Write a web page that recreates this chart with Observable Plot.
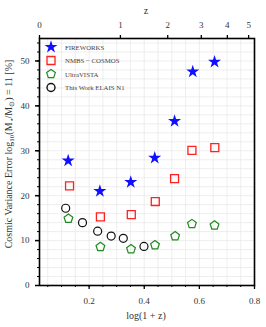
<!DOCTYPE html>
<html><head><meta charset="utf-8">
<script src="https://cdn.jsdelivr.net/npm/d3@7"></script>
<script src="https://cdn.jsdelivr.net/npm/@observablehq/plot@0.6"></script>
<style>
body{margin:0;background:#fff;}
svg{font-family:"Liberation Serif",serif;}
</style></head>
<body><div id="chart"></div>
<script>
// Data: log(1+z) positions and cosmic variance error [%]
const fireworksX = [0.124, 0.239, 0.351, 0.438, 0.510, 0.576, 0.655];
const fireworksY = [27.8, 21.0, 23.0, 28.4, 36.6, 47.6, 49.8];
const nmbsX = [0.129, 0.241, 0.353, 0.440, 0.510, 0.573, 0.656];
const nmbsY = [22.2, 15.3, 15.8, 18.7, 23.8, 30.1, 30.7];
const uvistaX = [0.125, 0.241, 0.352, 0.439, 0.512, 0.573, 0.655];
const uvistaY = [14.9, 8.6, 8.1, 9.0, 11.0, 13.7, 13.4];
const thisX = [0.115, 0.176, 0.231, 0.280, 0.324, 0.399];
const thisY = [17.2, 14.0, 12.1, 11.0, 10.5, 8.7];
const seriesNames = ["FIREWORKS", "NMBS \u2212 COSMOS", "UltraVISTA", "This Work ELAIS N1"];
const xTicks = [0.2, 0.4, 0.6, 0.8];
const yTicks = [0, 10, 20, 30, 40, 50];
const zTicks = [0, 1, 2, 3, 4, 5];
const xDomain = [0.02, 0.8];
const topDomain = [0, 0.8];
const yDomain = [0, 55];

const toBottom = v => xDomain[0] + (v - topDomain[0]) * (xDomain[1] - xDomain[0]) / (topDomain[1] - topDomain[0]);
const fromBottom = u => topDomain[0] + (u - xDomain[0]) * (topDomain[1] - topDomain[0]) / (xDomain[1] - xDomain[0]);
const zPos = zTicks.map(z => toBottom(Math.log10(1 + z)));

const pentagon = {
  draw(context, size) {
    const r = Math.sqrt(size / 2.378);
    for (let i = 0; i < 5; i++) {
      const a = -Math.PI / 2 + i * 2 * Math.PI / 5;
      const x = r * Math.cos(a), y = r * Math.sin(a);
      if (i === 0) context.moveTo(x, y); else context.lineTo(x, y);
    }
    context.closePath();
  }
};

const pts = (xs, ys) => xs.map((x, i) => ({x, y: ys[i]}));
const fw = pts(fireworksX, fireworksY);
const nm = pts(nmbsX, nmbsY);
const uv = pts(uvistaX, uvistaY);
const tw = pts(thisX, thisY);

const minorX = d3.range(0.05, 0.8001, 0.05).map(v => +v.toFixed(2));
const minorY = d3.range(0, 55, 2);
const blank = () => "";

const plot = Plot.plot({
  width: 266,
  height: 327,
  marginLeft: 39,
  marginRight: 12,
  marginTop: 38,
  marginBottom: 42,
  style: {fontFamily: "Liberation Serif, serif", fontSize: "9px", background: "white"},
  x: {domain: xDomain},
  y: {domain: yDomain},
  marks: [
    Plot.gridX(minorX, {stroke: "#e6e6e6", strokeOpacity: 1, strokeWidth: 0.7}),
    Plot.gridY(minorY, {stroke: "#e6e6e6", strokeOpacity: 1, strokeWidth: 0.7}),
    Plot.axisX(minorX, {anchor: "bottom", tickSize: 2, tickFormat: blank, label: null}),
    Plot.axisX(xTicks, {anchor: "bottom", tickSize: 4, tickPadding: 8, tickFormat: d => d.toFixed(1), label: null, strokeWidth: 1.3, fill: "#333", fontSize: 9}),
    Plot.axisY(minorY, {anchor: "left", tickSize: 2, tickFormat: blank, label: null}),
    Plot.axisY(yTicks, {anchor: "left", tickSize: 4, tickPadding: 6, label: null, strokeWidth: 1.5, fill: "#333", fontSize: 9}),
    Plot.axisX(zPos, {anchor: "top", tickSize: 4, tickPadding: 7, label: null, strokeWidth: 1.3, fill: "#333", fontSize: 9,
      tickFormat: u => String(Math.round(Math.pow(10, fromBottom(u)) - 1))}),
    Plot.frame({stroke: "black", strokeWidth: 1.6}),
    Plot.dot(fw, {x: "x", y: "y", symbol: "star", fill: "#1010ff", r: 4.1}),
    Plot.dot(nm, {x: "x", y: "y", symbol: "square", stroke: "#ff2020", strokeWidth: 1.3, r: 4.5}),
    Plot.dot(uv, {x: "x", y: "y", symbol: pentagon, stroke: "#1f8a1f", strokeWidth: 1.2, r: 4.0}),
    Plot.dot(tw, {x: "x", y: "y", symbol: "circle", stroke: "#111", strokeWidth: 1.2, r: 4.0})
  ]
});

document.getElementById("chart").appendChild(plot);
const svg = d3.select(plot);

// axis labels
svg.append("text").attr("x", 146).attr("y", 319).attr("text-anchor", "middle")
  .attr("font-size", 10).attr("fill", "#333").text("log(1 + z)");
svg.append("text").attr("x", 146).attr("y", 14).attr("text-anchor", "middle")
  .attr("font-size", 10).attr("fill", "#333").text("z");
const yl = svg.append("text").attr("transform", "translate(12,154) rotate(-90)")
  .attr("text-anchor", "middle").attr("font-size", 10).attr("fill", "#333");
yl.append("tspan").text("Cosmic Variance Error log");
yl.append("tspan").attr("font-size", 7).attr("dy", 2).text("10");
yl.append("tspan").attr("dy", -2).text("(M");
yl.append("tspan").attr("font-size", 7).attr("dy", 2).text("\u22c6");
yl.append("tspan").attr("dy", -2).text("/M");
yl.append("tspan").attr("font-size", 7).attr("dy", 2).text("\u2299");
yl.append("tspan").attr("dy", -2).text(") = 11 [%]");

// legend
const lg = svg.append("g").attr("transform", "translate(51,47)");
const symbols = [
  {sym: d3.symbolStar, size: 52, fill: "#1010ff", stroke: "none", sw: 0},
  {sym: d3.symbolSquare, size: 64, fill: "none", stroke: "#ff2020", sw: 1.3},
  {sym: pentagon, size: 50, fill: "none", stroke: "#1f8a1f", sw: 1.2},
  {sym: d3.symbolCircle, size: 50, fill: "none", stroke: "#111", sw: 1.4}
];
seriesNames.forEach((name, i) => {
  const g = lg.append("g").attr("transform", `translate(0,${i * 13.5})`);
  g.append("path").attr("d", d3.symbol(symbols[i].sym, symbols[i].size)())
    .attr("fill", symbols[i].fill).attr("stroke", symbols[i].stroke).attr("stroke-width", symbols[i].sw);
  g.append("text").attr("x", 14).attr("y", 2.5).attr("text-anchor", "start")
    .attr("font-size", 6.8).attr("fill", "#444").text(name);
});
</script>
</body></html>
